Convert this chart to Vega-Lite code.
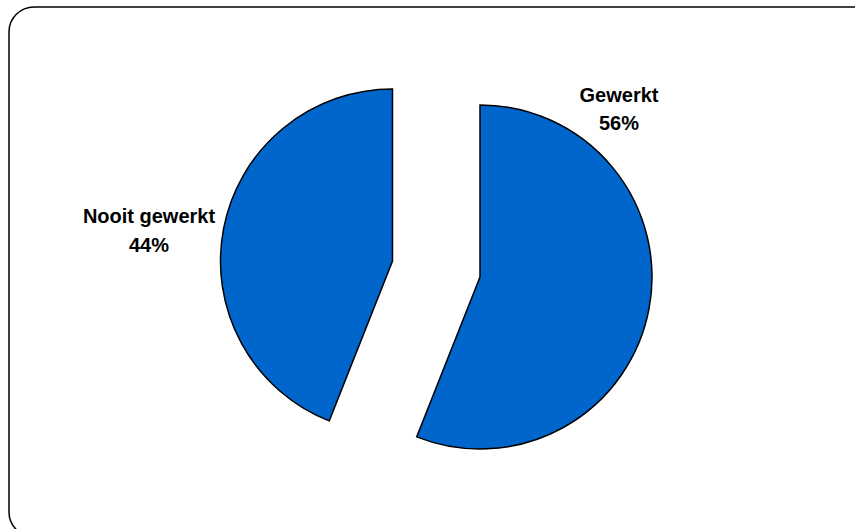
{
  "$schema": "https://vega.github.io/schema/vega-lite/v6.json",
  "width": 855,
  "height": 529,
  "autosize": {"type": "fit", "contains": "padding"},
  "padding": {"left": 9, "top": 7, "right": -24, "bottom": -8},
  "background": "white",
  "view": {"stroke": "black", "strokeWidth": 1.5, "cornerRadius": 25, "fill": "white"},
  "data": {
    "values": [
      {"category": "Gewerkt", "value": 56, "pct": "56%"},
      {"category": "Nooit gewerkt", "value": 44, "pct": "44%"}
    ]
  },
  "transform": [
    {"stack": "value", "groupby": [], "sort": [{"field": "category", "order": "ascending"}], "as": ["v0", "v1"]}
  ],
  "layer": [
    {
      "transform": [{"filter": "datum.category === 'Gewerkt'"}],
      "mark": {"type": "arc", "outerRadius": 172, "xOffset": 36, "yOffset": 5, "fill": "#0066CC", "stroke": "black", "strokeWidth": 1.5},
      "encoding": {
        "theta": {"field": "v0", "type": "quantitative", "scale": {"domain": [0, 100]}},
        "theta2": {"field": "v1"}
      }
    },
    {
      "transform": [{"filter": "datum.category === 'Nooit gewerkt'"}],
      "mark": {"type": "arc", "outerRadius": 172, "xOffset": -51.5, "yOffset": -11, "fill": "#0066CC", "stroke": "black", "strokeWidth": 1.5},
      "encoding": {
        "theta": {"field": "v0", "type": "quantitative", "scale": {"domain": [0, 100]}},
        "theta2": {"field": "v1"}
      }
    },
    {
      "transform": [{"filter": "datum.category === 'Gewerkt'"}],
      "mark": {"type": "text", "xOffset": 175, "yOffset": -170, "align": "center", "baseline": "alphabetic", "font": "Liberation Sans", "fontSize": 20, "fontWeight": "bold", "lineHeight": 28, "color": "black"},
      "encoding": {"text": {"value": ["Gewerkt", "56%"]}}
    },
    {
      "transform": [{"filter": "datum.category === 'Nooit gewerkt'"}],
      "mark": {"type": "text", "xOffset": -295, "yOffset": -49, "align": "center", "baseline": "alphabetic", "font": "Liberation Sans", "fontSize": 20, "fontWeight": "bold", "lineHeight": 29, "color": "black"},
      "encoding": {"text": {"value": ["Nooit gewerkt", "44%"]}}
    }
  ]
}
